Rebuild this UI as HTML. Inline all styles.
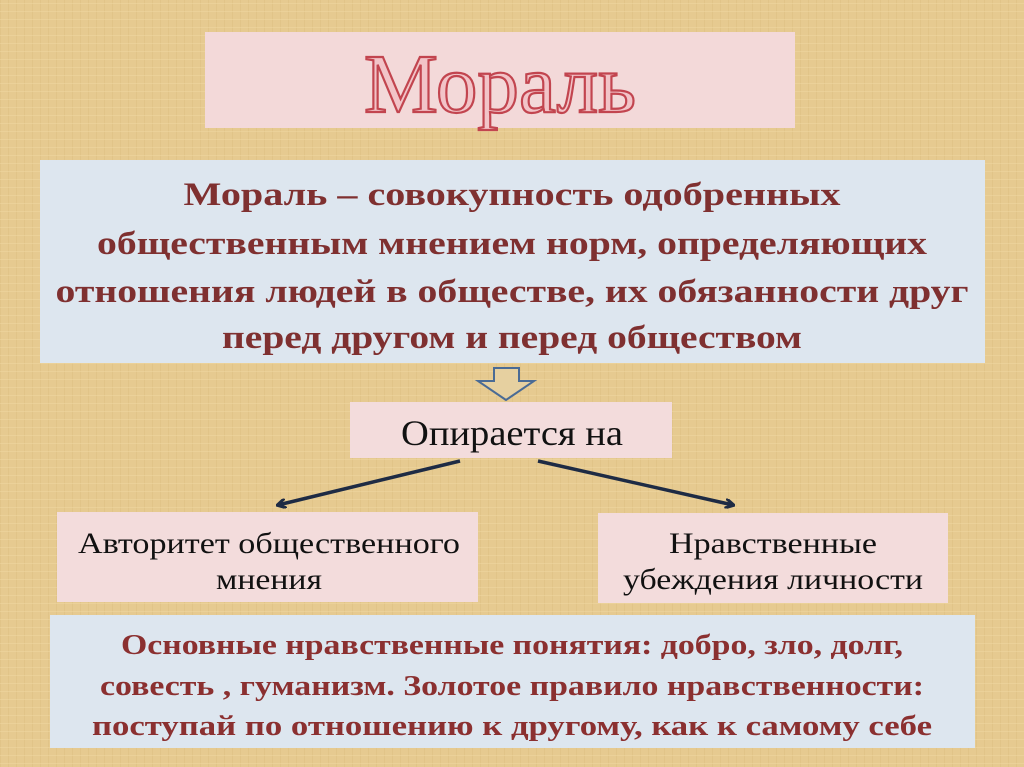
<!DOCTYPE html>
<html><head><meta charset="utf-8"><style>
html,body{margin:0;padding:0;width:1024px;height:767px;overflow:hidden;background:#e6c98e;}
</style></head><body>
<svg width="1024" height="767" xmlns="http://www.w3.org/2000/svg" style="display:block">
<defs>
<pattern id="tex" width="8" height="8" patternUnits="userSpaceOnUse">
<rect width="8" height="8" fill="#e6ca90"/>
<rect x="0" y="0" width="1" height="8" fill="#dcbd80" opacity="0.5"/>
<rect x="0" y="3" width="8" height="1" fill="#efd7a2" opacity="0.5"/>
</pattern>
<marker id="ah" markerWidth="10" markerHeight="10" refX="8" refY="5" orient="auto" markerUnits="userSpaceOnUse">
<path d="M0,0 L9,5 L0,10" fill="none" stroke="#1e2b44" stroke-width="3"/>
</marker>
</defs>
<rect width="1024" height="767" fill="url(#tex)"/>
<g font-family="'Liberation Serif',serif">
<rect x="205" y="32" width="590" height="96" fill="#f3d9d9"/>
<text x="500" y="112" text-anchor="middle" font-size="84" fill="#f2c4c8" stroke="#c2454f" stroke-width="2.2" textLength="272" lengthAdjust="spacingAndGlyphs">Мораль</text>

<rect x="40" y="160" width="945" height="203" fill="#dde6ef"/>
<g font-weight="bold" font-size="33" fill="#7f3030" text-anchor="middle">
<text x="512" y="205" textLength="657" lengthAdjust="spacingAndGlyphs">Мораль – совокупность  одобренных</text>
<text x="512" y="254" textLength="830" lengthAdjust="spacingAndGlyphs">общественным мнением норм, определяющих</text>
<text x="512" y="302" textLength="913" lengthAdjust="spacingAndGlyphs">отношения людей в обществе, их обязанности друг</text>
<text x="512" y="348" textLength="580" lengthAdjust="spacingAndGlyphs">перед другом и перед обществом</text>
</g>

<path d="M494,368 L519,368 L519,381 L534,381 L506,400 L478,381 L494,381 Z" fill="#e6d0a0" stroke="#4a6b95" stroke-width="2"/>

<rect x="350" y="402" width="322" height="56" fill="#f3dcdc"/>
<text x="512" y="445" text-anchor="middle" font-size="36" fill="#111" textLength="222" lengthAdjust="spacingAndGlyphs">Опирается на</text>

<line x1="460" y1="461" x2="278" y2="505" stroke="#1e2b44" stroke-width="3.5" marker-end="url(#ah)"/>
<line x1="538" y1="461" x2="733" y2="505" stroke="#1e2b44" stroke-width="3.5" marker-end="url(#ah)"/>

<rect x="57" y="512" width="421" height="90" fill="#f3dcdc"/>
<g font-size="30" fill="#111" text-anchor="middle">
<text x="269" y="553" textLength="382" lengthAdjust="spacingAndGlyphs">Авторитет общественного</text>
<text x="269" y="589" textLength="106" lengthAdjust="spacingAndGlyphs">мнения</text>
</g>
<rect x="598" y="513" width="350" height="90" fill="#f3dcdc"/>
<g font-size="30" fill="#111" text-anchor="middle">
<text x="773" y="553" textLength="208" lengthAdjust="spacingAndGlyphs">Нравственные</text>
<text x="773" y="589" textLength="300" lengthAdjust="spacingAndGlyphs">убеждения личности</text>
</g>

<rect x="50" y="615" width="925" height="133" fill="#dde6ef"/>
<g font-weight="bold" font-size="28" fill="#8b3030" text-anchor="middle">
<text x="512" y="654" textLength="782" lengthAdjust="spacingAndGlyphs">Основные нравственные понятия: добро, зло, долг,</text>
<text x="512" y="695" textLength="824" lengthAdjust="spacingAndGlyphs">совесть , гуманизм. Золотое правило нравственности:</text>
<text x="512" y="735" textLength="840" lengthAdjust="spacingAndGlyphs">поступай по отношению к другому, как к самому себе</text>
</g>
</g>
</svg>
</body></html>
